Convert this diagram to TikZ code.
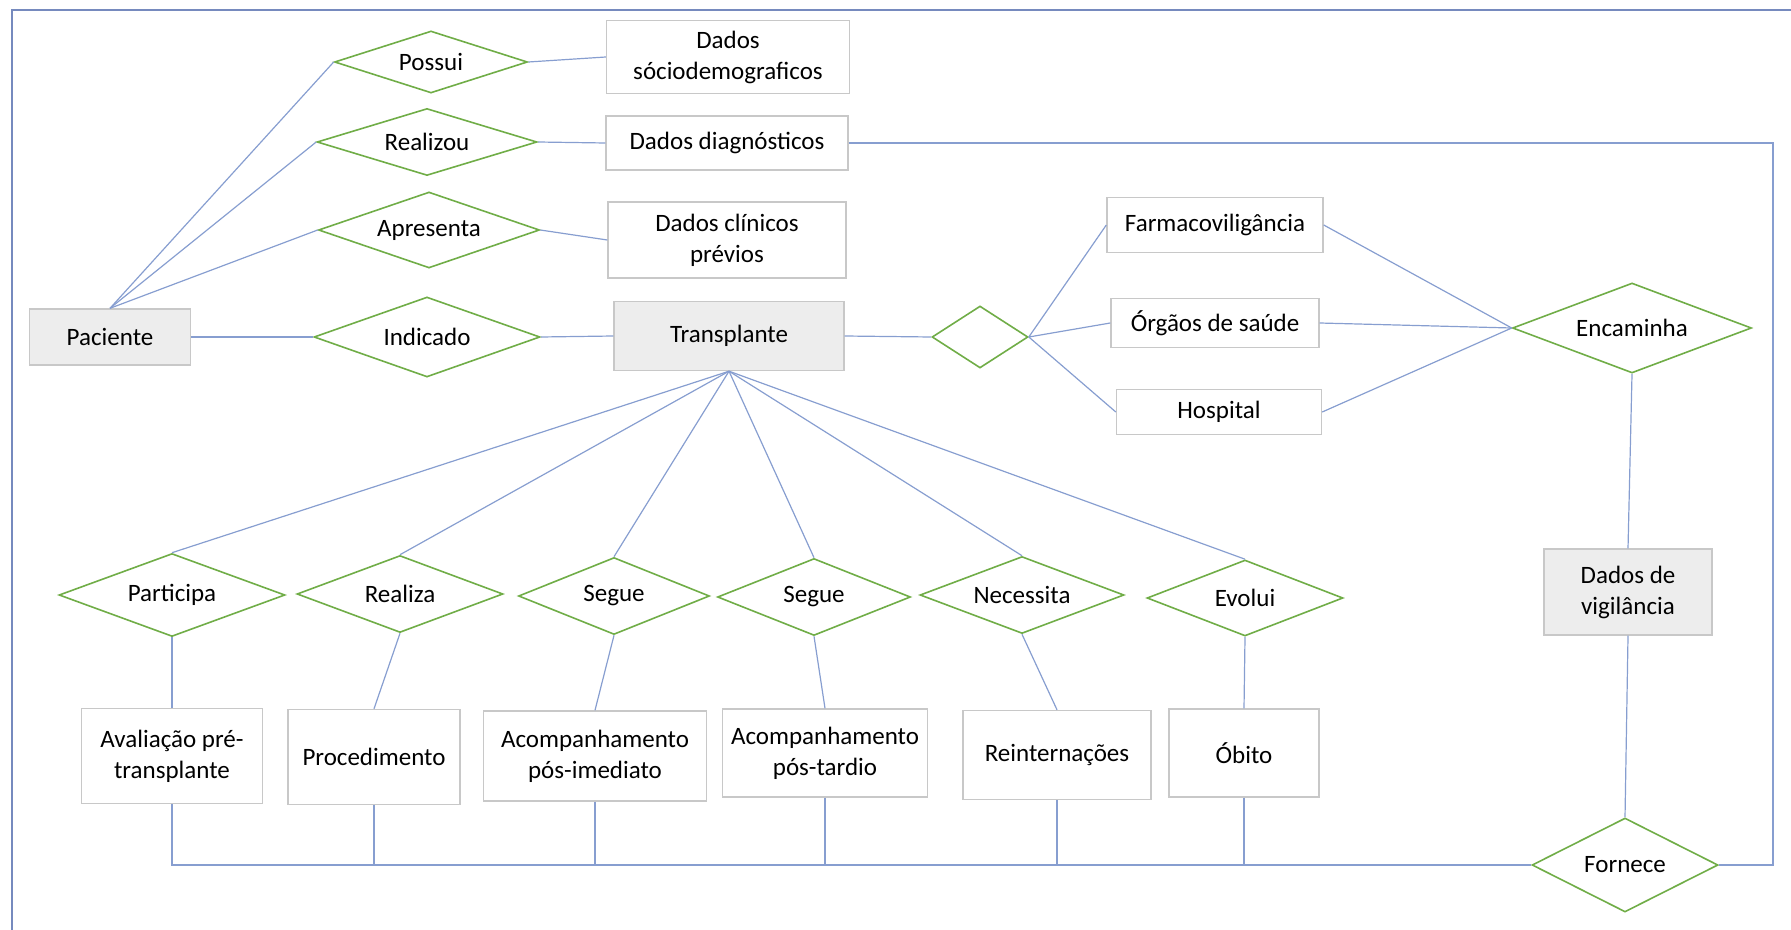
\documentclass[tikz,border=0pt]{standalone}
\usepackage{fontspec}
\setmainfont{Carlito}
\usetikzlibrary{positioning}
\usetikzlibrary{shapes.geometric}
\definecolor{verderel}{RGB}{112,173,71}
\definecolor{cinzabox}{RGB}{200,200,200}
\definecolor{fundoent}{RGB}{237,237,237}
\definecolor{azullig}{RGB}{135,158,208}
\definecolor{azulmold}{RGB}{118,138,190}
\tikzset{
	tam/.style 2 args={minimum width=#1*.5pt, minimum height=#2*.5pt},
	entidade/.style={
		rectangle,
		draw=cinzabox, line width=.7pt,
		fill=fundoent,
		align=center,
		inner sep=1pt},
	atributo/.style={
		rectangle,
		draw=cinzabox, line width=.7pt,
		fill=white,
		align=center,
		inner sep=1pt},
	relacao/.style={
		diamond, aspect=3,
		draw=verderel, line width=.8pt,
		fill=white,
		inner sep=0pt},
	ligacao/.style={draw=azullig, line width=.6pt},
	moldura/.style={draw=azulmold, line width=1pt},
}

\begin{document}
\begin{tikzpicture}
	[x=.5pt, y=-.5pt,
	font=\fontsize{12.5}{15.5}\selectfont]
	\useasboundingbox (0,0) rectangle (1791,930);
	\draw[moldura] (12,930) -- (12,10) -- (1791,10);

	% entidades
	\node[entidade, tam={161}{56}] (paciente) at (110,337) {Paciente};
	\node[entidade, tam={230}{69}] (transplante) at (729,336) {Transplante};
	\node[entidade, tam={168}{86}] (vigilancia) at (1628,592) {Dados de\\vigilância};

	% paciente
	\node[relacao, tam={193}{62}] (possui) at (431,62) {Possui};
	\node[relacao, tam={220}{67}] (realizou) at (427,142) {Realizou};
	\node[relacao, tam={221}{76}] (apresenta) at (429,230) {Apresenta};
	\node[relacao, tam={226}{80}] (indicado) at (427,337) {Indicado};
	\node[atributo, tam={243}{73}] (socio) at (728,57) {Dados\\sóciodemograficos};
	\node[atributo, tam={242}{54}] (diag) at (727,143) {Dados diagnósticos};
	\node[atributo, tam={238}{76}] (clin) at (727,240) {Dados clínicos\\prévios};

	% notificacao
	\node[relacao, tam={96}{62}] (assoc) at (980,337) {};
	\node[atributo, tam={216}{55}] (farmaco) at (1215,225) {Farmacoviligância};
	\node[atributo, tam={208}{49}] (orgaos) at (1215,323) {Órgãos de saúde};
	\node[atributo, tam={205}{45}] (hospital) at (1219,412) {Hospital};
	\node[relacao, tam={239}{90}] (encaminha) at (1632,328) {Encaminha};
	\node[relacao, tam={186}{94}] (fornece) at (1625,865) {Fornece};

	% etapas do transplante
	\node[relacao, tam={226}{83}] (participa) at (172,595) {Participa};
	\node[relacao, tam={206}{77}] (realiza) at (400,594) {Realiza};
	\node[relacao, tam={191}{77}] (segueA) at (614,596) {Segue};
	\node[relacao, tam={193}{77}] (segueB) at (814,597) {Segue};
	\node[relacao, tam={204}{77}] (necessita) at (1022,595) {Necessita};
	\node[relacao, tam={196}{76}] (evolui) at (1245,598) {Evolui};
	\node[atributo, tam={181}{95}] (avaliacao) at (172,756) {Avaliação pré-\\transplante};
	\node[atributo, tam={172}{95}] (procedimento) at (374,757) {Procedimento};
	\node[atributo, tam={223}{90}] (acompA) at (595,756) {Acompanhamento\\pós-imediato};
	\node[atributo, tam={205}{88}] (acompB) at (825,753) {Acompanhamento\\pós-tardio};
	\node[atributo, tam={188}{89}] (reintern) at (1057,755) {Reinternações};
	\node[atributo, tam={150}{88}] (obito) at (1244,753) {Óbito};

	\coordinate (canto) at (1773,143);

	\draw[ligacao] (paciente.north) -- (possui.west);
	\draw[ligacao] (paciente.north) -- (realizou.west);
	\draw[ligacao] (paciente.north) -- (apresenta.west);
	\draw[ligacao] (possui.east) -- (socio.west);
	\draw[ligacao] (realizou.east) -- (diag.west);
	\draw[ligacao] (apresenta.east) -- (clin.west);
	\draw[ligacao] (paciente.east) -- (indicado.west);
	\draw[ligacao] (indicado.east) -- (transplante.west);
	\draw[ligacao] (transplante.east) -- (assoc.west);
	\foreach \org in {farmaco,orgaos,hospital}{
		\draw[ligacao] (assoc.east) -- (\org.west);
		\draw[ligacao] (\org.east) -- (encaminha.west);
	}
	\draw[ligacao] (encaminha.south) -- (vigilancia.north);
	\draw[ligacao] (vigilancia.south) -- (fornece.north);
	\draw[ligacao] (diag.east) -- (canto) |- (fornece.east);

	\foreach \rel/\alvo in {participa/avaliacao,realiza/procedimento,segueA/acompA,segueB/acompB,necessita/reintern,evolui/obito}{
		\draw[ligacao] (transplante.south) -- (\rel.north);
		\draw[ligacao] (\rel.south) -- (\alvo.north);
	}
	\draw[ligacao] (avaliacao.south) |- (fornece.west);
	\foreach \alvo in {procedimento,acompA,acompB,reintern,obito}
		\draw[ligacao] (\alvo.south) -- (\alvo.south |- fornece.west);
\end{tikzpicture}
\end{document}
